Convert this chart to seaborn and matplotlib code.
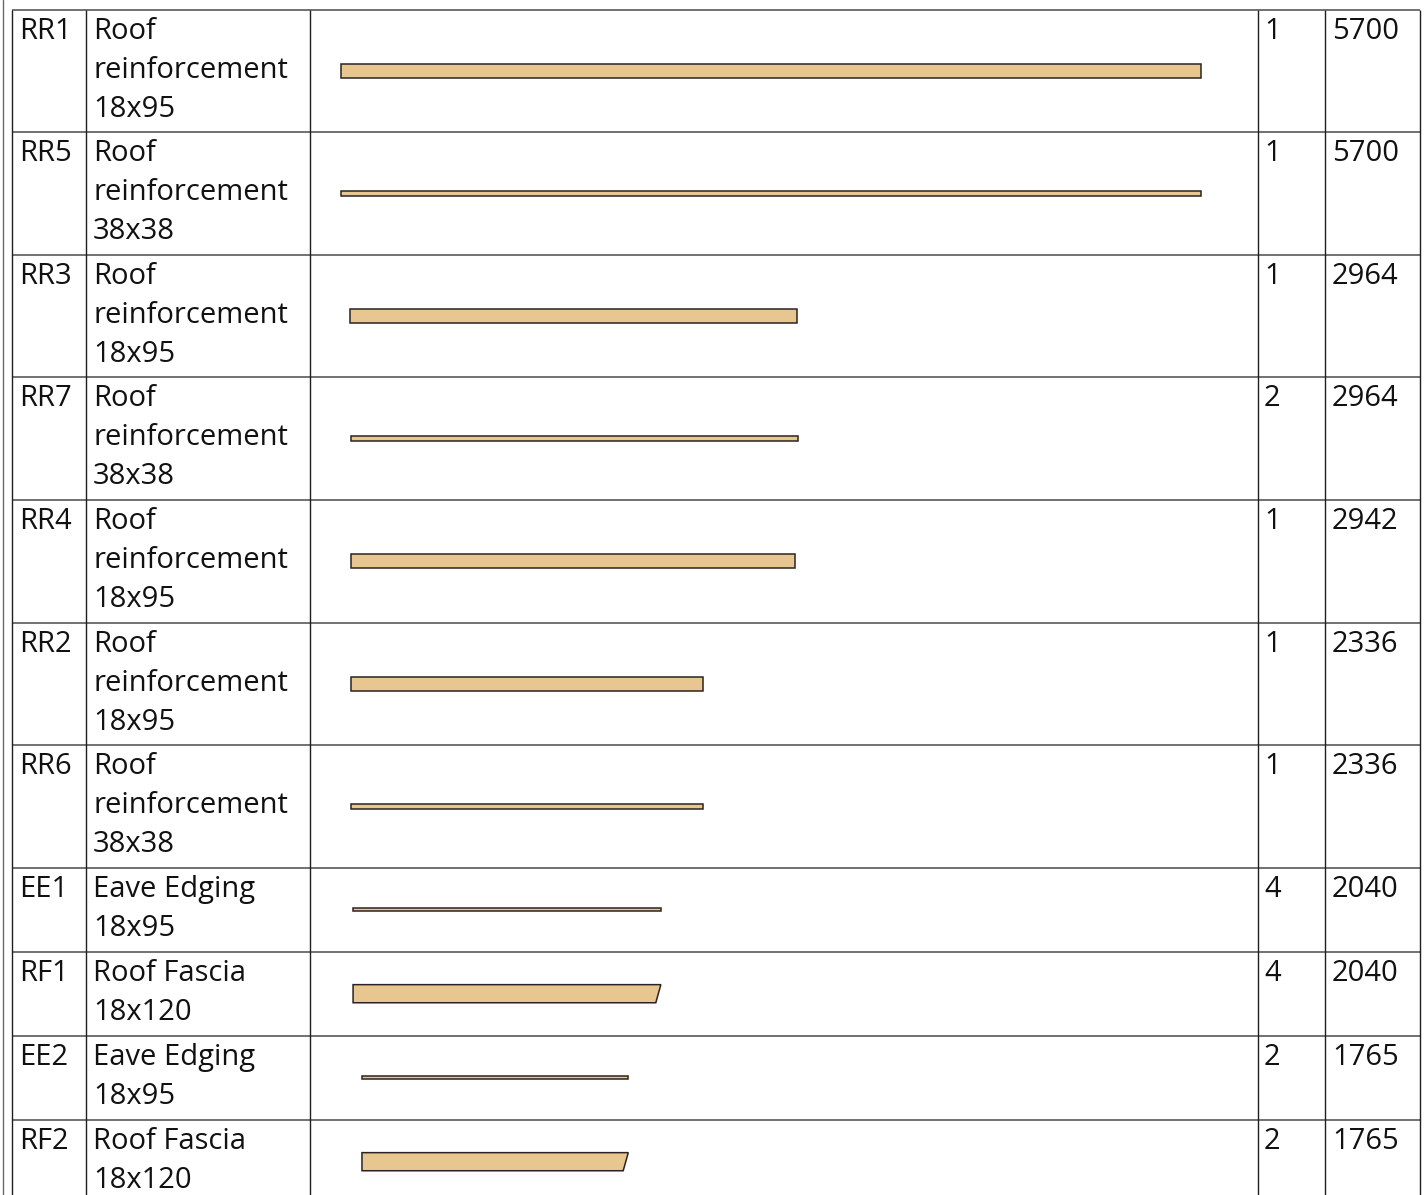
import matplotlib
matplotlib.use("Agg")
import matplotlib.pyplot as plt
import numpy as np
import pandas as pd
import seaborn as sns

# ---------------- data ----------------
codes = ["RR1", "RR5", "RR3", "RR7", "RR4", "RR2", "RR6", "EE1", "RF1", "EE2", "RF2"]
names = [
    ["Roof", "reinforcement"], ["Roof", "reinforcement"], ["Roof", "reinforcement"],
    ["Roof", "reinforcement"], ["Roof", "reinforcement"], ["Roof", "reinforcement"],
    ["Roof", "reinforcement"], ["Eave Edging"], ["Roof Fascia"], ["Eave Edging"], ["Roof Fascia"],
]
sections = ["18x95", "38x38", "18x95", "38x38", "18x95", "18x95", "38x38",
            "18x95", "18x120", "18x95", "18x120"]
quantities = [1, 1, 1, 2, 1, 1, 1, 4, 4, 2, 2]
lengths = [5700, 5700, 2964, 2964, 2942, 2336, 2336, 2040, 2040, 1765, 1765]
visible_depth = [95, 38, 95, 38, 95, 95, 38, 18, 120, 18, 120]   # mm shown in drawing
start_offsets = [0, 0, 60, 66, 66, 66, 66, 80, 80, 139, 139]      # mm
mitred_end = [False, False, False, False, False, False, False, False, True, False, True]

# ---------------- style ----------------
sns.set_theme(style="white")
plt.rcParams["font.family"] = ["Open Sans", "DejaVu Sans"]

W, H = 1427, 1195
FILL = "#E8C690"
EDGE = "#2a2420"
TXT = "#111111"
FS = 21

fig = plt.figure(figsize=(W / 100, H / 100), dpi=100)
ax = fig.add_axes([0, 0, 1, 1])
ax.set_xlim(0, W)
ax.set_ylim(H, 0)
ax.axis("off")

# layout (pixels)
top = 9.5
row_h = [122.6 if len(n) == 2 else 84.0 for n in names]
row_tops = top + np.concatenate([[0], np.cumsum(row_h)[:-1]])
row_bottoms = row_tops + np.array(row_h)
row_centers = (row_tops + row_bottoms) / 2

col_x = [12, 86, 310, 1258, 1325, 1420]
HLINE = "#4a4a4a"
VLINE = "#1e1e1e"

# outer page edge line
ax.plot([2.5, 2.5], [0, H], color="#6a6a6a", lw=1.0)
# horizontal rules
for y in np.concatenate([[top], row_bottoms]):
    ax.plot([col_x[0], col_x[-1]], [y, y], color=HLINE, lw=1.1, solid_capstyle="butt")
# vertical rules
for x in col_x:
    ax.plot([x, x], [top, H], color=VLINE, lw=1.0, solid_capstyle="butt")

# text
line_gap = 39
for i in range(len(codes)):
    base = row_tops[i] + 29
    ax.text(19, base, codes[i], fontsize=FS, color=TXT, va="baseline", ha="left")
    lines = names[i] + [sections[i]]
    for k, ln in enumerate(lines):
        ax.text(93, base + k * line_gap, ln, fontsize=FS, color=TXT, va="baseline", ha="left")
    ax.text(1264, base, str(quantities[i]), fontsize=FS, color=TXT, va="baseline", ha="left")
    ax.text(1332, base, str(lengths[i]), fontsize=FS, color=TXT, va="baseline", ha="left")

# ---------------- bars (mm-scaled axes) ----------------
scale = 860 / 5700.0          # px per mm
x0_px = 341                   # pixel position of 0 mm
left_px, right_px = col_x[2], col_x[3]
bax = fig.add_axes([left_px / W, 0, (right_px - left_px) / W, (H - top) / H])
bax.patch.set_alpha(0)

centers_mm = (row_centers - top) / scale
df = pd.DataFrame({"length": lengths, "center": centers_mm})
sns.barplot(data=df, x="length", y="center", orient="y", native_scale=True,
            color=FILL, saturation=1, edgecolor=EDGE, linewidth=1.1,
            errorbar=None, ax=bax)

patches = sorted(bax.patches, key=lambda p: p.get_y() + p.get_height() / 2)
order = np.argsort(centers_mm)
for p, i in zip(patches, order):
    d = visible_depth[i]
    s = start_offsets[i]
    L = lengths[i]
    c = centers_mm[i]
    p.set_facecolor(FILL)
    p.set_edgecolor(EDGE)
    p.set_linewidth(1.1)
    if mitred_end[i]:
        p.set_visible(False)
        slant = 0.28 * d
        xs = [s, s + L, s + L - slant, s]
        ys = [c - d / 2, c - d / 2, c + d / 2, c + d / 2]
        bax.fill(xs, ys, facecolor=FILL, edgecolor=EDGE, linewidth=1.1)
    else:
        p.set_x(s)
        p.set_width(L)
        p.set_y(c - d / 2)
        p.set_height(d)

bax.set_xlim((left_px - x0_px) / scale, (right_px - x0_px) / scale)
bax.set_ylim((H - top) / scale, 0)
bax.axis("off")

fig.savefig("out.png", dpi=100)
